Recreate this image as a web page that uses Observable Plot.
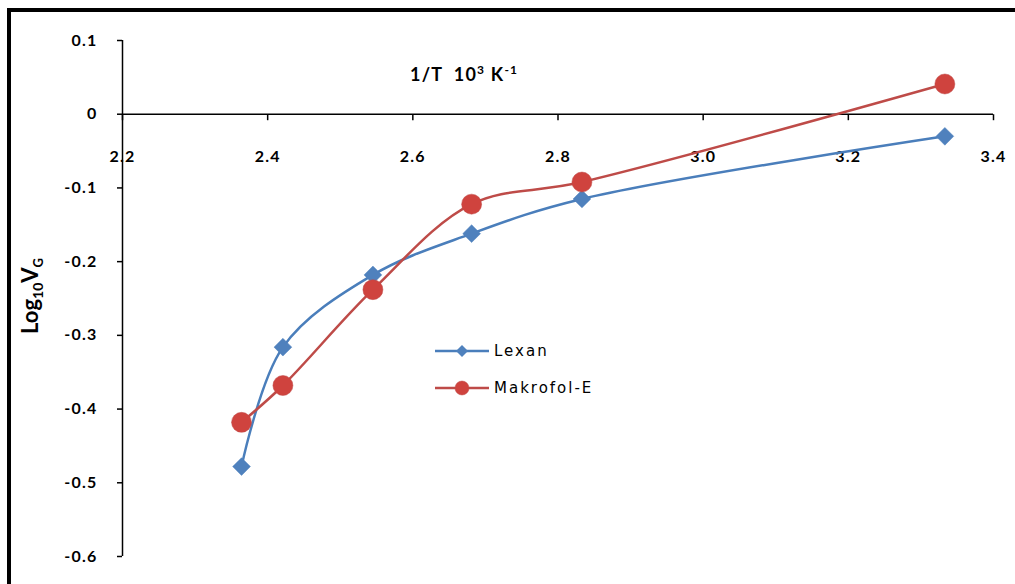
<!DOCTYPE html>
<html>
<head>
<meta charset="utf-8">
<script src="https://cdn.jsdelivr.net/npm/d3@7"></script>
<script src="https://cdn.jsdelivr.net/npm/@observablehq/plot@0.6"></script>
<style>
  html, body { margin: 0; padding: 0; background: #fff; }
  #wrap { position: relative; width: 1015px; height: 584px; overflow: hidden; background: #fff; }
  #frame { position: absolute; left: 7px; top: 8px; width: 1200px; height: 800px; border: 4px solid #000; box-sizing: border-box; pointer-events: none; }
  #chart { position: absolute; left: 0; top: 0; }
  #chart text { letter-spacing: 1.2px; }
  #xtitle { position: absolute; left: 410px; top: 62px; font-family: Lato, "Open Sans", sans-serif; font-weight: bold; font-size: 18px; letter-spacing: 1.2px; color: #000; white-space: nowrap; }
  #ytitle { position: absolute; left: 31px; top: 296px; transform: translate(-50%, -50%) rotate(-90deg); font-family: Lato, "Open Sans", sans-serif; font-weight: bold; font-size: 22px; color: #000; white-space: nowrap; }
  #legend { position: absolute; left: 435px; top: 339px; font-family: "DejaVu Sans", sans-serif; font-size: 15px; letter-spacing: 2px; color: #000; }
  .lrow { display: flex; align-items: center; height: 24px; margin-bottom: 13px; }
  .lrow svg { margin-right: 5px; }
</style>
</head>
<body>
<div id="wrap">
  <div id="chart"></div>
  <div id="xtitle">1/T&nbsp; 10<sup style="font-size:12px">3</sup> K<sup style="font-size:12px">-1</sup></div>
  <div id="ytitle">Log<sub style="font-size:14px">10</sub>V<sub style="font-size:13px">G</sub></div>
  <div id="legend"></div>
  <div id="frame"></div>
</div>
<script>
// ---- data ----
const invT = [2.364, 2.421, 2.545, 2.681, 2.833, 3.333];
const lexan = [-0.478, -0.316, -0.218, -0.162, -0.115, -0.030];
const makrofol = [-0.418, -0.368, -0.238, -0.122, -0.092, 0.041];
const seriesNames = ["Lexan", "Makrofol-E"];
const xTicks = [2.2, 2.4, 2.6, 2.8, 3.0, 3.2, 3.4];
const xTickLabels = ["2.2", "2.4", "2.6", "2.8", "3.0", "3.2", "3.4"];
const yTicks = [0.1, 0, -0.1, -0.2, -0.3, -0.4, -0.5, -0.6];
const yTickLabels = ["0.1", "0", "-0.1", "-0.2", "-0.3", "-0.4", "-0.5", "-0.6"];

// ---- styles ----
const blueLine = "#4A7EBB", blueFill = "#4F81BD";
const redLine = "#BE4B48", redFill = "#CF433E";

const lexanData = invT.map((x, i) => ({x, y: lexan[i]}));
const makData = invT.map((x, i) => ({x, y: makrofol[i]}));

const tickDown = { draw(ctx, size) { ctx.moveTo(0, 0); ctx.lineTo(0, 6); } };

const chart = Plot.plot({
  width: 1015,
  height: 584,
  marginLeft: 122,
  marginRight: 22,
  marginTop: 40,
  marginBottom: 28,
  x: {domain: [2.2, 3.4], axis: null},
  y: {domain: [-0.6, 0.1]},
  style: {fontFamily: "Lato, 'Open Sans', sans-serif", background: "transparent", overflow: "visible"},
  marks: [
    Plot.ruleX([2.2], {stroke: "#000", strokeWidth: 1.5}),
    Plot.axisY(yTicks, {
      anchor: "left", tickSize: 5, tickPadding: 20,
      tickFormat: d => yTickLabels[yTicks.indexOf(d)],
      fontSize: 16, fontWeight: "bold", label: null, stroke: "#000", strokeWidth: 1.5
    }),
    Plot.ruleY([0], {stroke: "#000", strokeWidth: 1.5}),
    Plot.dot(xTicks, {x: d => d, y: () => 0, symbol: tickDown, r: 3, stroke: "#000", strokeWidth: 1.5, fill: "none"}),
    Plot.text(xTicks, {x: d => d, y: () => 0, dy: 43, text: (d, i) => xTickLabels[i], fontSize: 16, fontWeight: "bold", fill: "#000"}),
    Plot.line(lexanData, {x: "x", y: "y", curve: "catmull-rom", stroke: blueLine, strokeWidth: 2.5}),
    Plot.dot(lexanData, {x: "x", y: "y", symbol: "diamond2", r: 8, fill: blueFill, stroke: blueFill, strokeWidth: 0.5}),
    Plot.line(makData, {x: "x", y: "y", curve: "catmull-rom", stroke: redLine, strokeWidth: 2.5}),
    Plot.dot(makData, {x: "x", y: "y", symbol: "circle", r: 10, fill: redFill, stroke: redLine, strokeWidth: 0.5})
  ]
});
document.getElementById("chart").appendChild(chart);

// ---- legend ----
const legend = document.getElementById("legend");
const legendStyles = [
  {line: blueLine, fill: blueFill, shape: "diamond"},
  {line: redLine, fill: redFill, shape: "circle"}
];
seriesNames.forEach((name, i) => {
  const s = legendStyles[i];
  const row = document.createElement("div");
  row.className = "lrow";
  const marker = s.shape === "diamond"
    ? `<path d="M27,6 L33,12 L27,18 L21,12 Z" fill="${s.fill}"/>`
    : `<circle cx="27" cy="12" r="7" fill="${s.fill}" stroke="${s.line}" stroke-width="0.5"/>`;
  row.innerHTML = `<svg width="54" height="24"><line x1="0" y1="12" x2="54" y2="12" stroke="${s.line}" stroke-width="2.5"/>${marker}</svg><span>${name}</span>`;
  legend.appendChild(row);
});
</script>
</body>
</html>
